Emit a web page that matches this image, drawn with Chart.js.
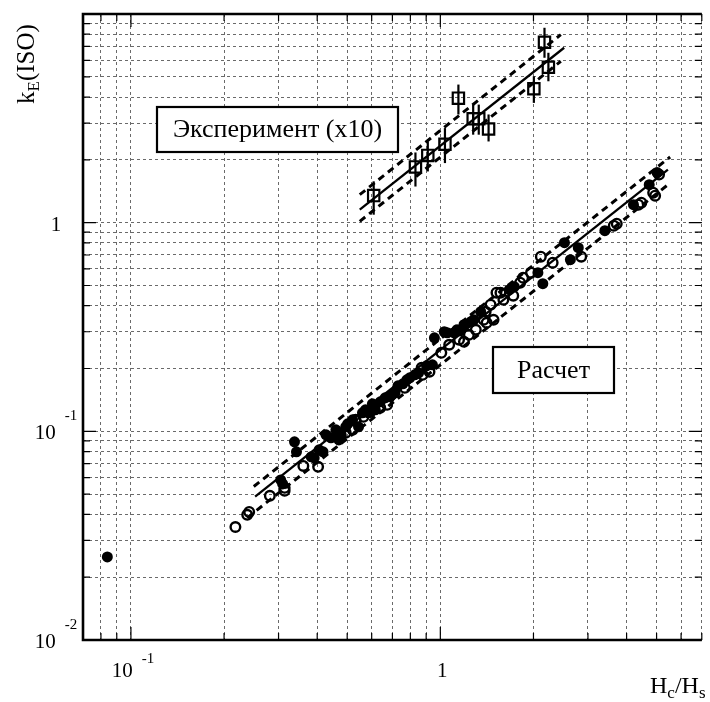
<!DOCTYPE html>
<html>
<head>
<meta charset="utf-8">
<script src="https://cdn.jsdelivr.net/npm/chart.js@4.4.0/dist/chart.umd.min.js"></script>
<style>
  html, body { margin: 0; padding: 0; background: #fff; overflow: hidden; }
  #wrap { width: 712px; height: 702px; }
</style>
</head>
<body>
<div id="wrap"><canvas id="kChart" width="712" height="702"></canvas></div>
<script>
// grid lines on the two log axes
const xGrid = [0.07, 0.08, 0.09, 0.1, 0.2, 0.3, 0.4, 0.5, 0.6, 0.7, 0.8, 0.9, 1, 2, 3, 4, 5, 6, 7];
const yGrid = [0.01, 0.02, 0.03, 0.04, 0.05, 0.06, 0.07, 0.08, 0.09,
               0.1, 0.2, 0.3, 0.4, 0.5, 0.6, 0.7, 0.8, 0.9,
               1, 2, 3, 4, 5, 6, 7, 8, 9, 10];

// labelled ticks (base and exponent)
const xLabelVals = [0.1, 1];
const xLabelBase = ['10', '1'];
const xLabelExp  = ['-1', ''];
const yLabelVals = [0.01, 0.1, 1];
const yLabelBase = ['10', '10', '1'];
const yLabelExp  = ['-2', '-1', ''];

// experiment (x10), squares with error bars
const expX    = [0.609, 0.831, 0.911, 1.035, 1.144, 1.277, 1.331, 1.432, 2.006, 2.171, 2.235];
const expY    = [1.348, 1.85, 2.10, 2.375, 3.95, 3.15, 3.15, 2.81, 4.38, 7.32, 5.56];
const expLow  = [1.092, 1.49, 1.76, 1.93, 3.30, 2.64, 2.64, 2.45, 3.75, 6.17, 4.76];
const expHigh = [1.578, 2.17, 2.45, 2.84, 4.59, 3.68, 3.68, 3.30, 5.03, 8.59, 6.52];

// calculation, filled circles
const calcFilledX = [0.0839, 0.3378, 0.3428, 0.3048, 0.3093, 0.3911, 0.4057, 0.4178, 0.4271, 0.4431,
                     0.4769, 0.4699, 0.4946, 0.5206, 0.5441, 0.5603, 0.5855, 0.6031, 0.6164, 0.688,
                     0.7138, 0.7297, 0.6982, 0.8264, 0.8509, 0.943, 0.957, 1.0297, 1.108, 1.1665,
                     1.1924, 1.2552, 1.2832, 1.3507, 1.6711, 2.1441, 2.5189, 2.6322, 2.7919, 3.4024,
                     4.2088, 4.7331, 5.0188, 0.3826, 1.0526, 1.1327, 1.7338, 2.0671,
                     0.4597, 0.5019, 0.5728, 0.6395, 0.6633, 0.7568, 0.7794, 0.7966, 0.9025];
const calcFilledY = [0.025, 0.0891, 0.0798, 0.0585, 0.056, 0.0746, 0.0815, 0.0798, 0.0962, 0.0931,
                     0.0973, 0.091, 0.1051, 0.1136, 0.1051, 0.1227, 0.1227, 0.1355, 0.1268, 0.1464,
                     0.153, 0.1653, 0.1497, 0.1866, 0.1909, 0.2084, 0.2808, 0.3001, 0.2968, 0.3068,
                     0.3242, 0.3351, 0.3426, 0.3742, 0.4772, 0.5099, 0.802, 0.6646, 0.7587, 0.9155,
                     1.2197, 1.5214, 1.7372, 0.0755, 0.2968, 0.3068, 0.4932, 0.5757,
                     0.1017, 0.1086, 0.1268, 0.1385, 0.1447, 0.169, 0.1766, 0.1805, 0.2061];

// calculation, open circles
const calcOpenX = [0.2176, 0.2376, 0.2411, 0.2812, 0.3139, 0.3139, 0.3608, 0.4027, 0.4946, 0.5206,
                   0.5322, 0.5645, 0.6395, 0.8764, 0.87, 1.0074, 1.1495, 1.3807, 1.4012, 1.4859,
                   1.4115, 1.4535, 1.5188, 1.5641, 1.8113, 1.8514, 1.9634, 2.1129, 2.3071, 2.8537,
                   3.6357, 3.717, 4.3661, 4.4635, 4.874, 5.0933, 4.9462, 1.2369, 1.0682,
                   0.4769, 0.5941, 0.673, 0.7679, 0.9226, 1.1924, 1.3022, 1.599, 1.721];
const calcOpenY = [0.0348, 0.0398, 0.0411, 0.0491, 0.0536, 0.0519, 0.0683, 0.0676, 0.0984, 0.1017,
                   0.1136, 0.1173, 0.1296, 0.1866, 0.2017, 0.2379, 0.2747, 0.3426, 0.3742, 0.3426,
                   0.3314, 0.4044, 0.4616, 0.4616, 0.5155, 0.5448, 0.5757, 0.687, 0.643, 0.687,
                   0.9674, 0.989, 1.2197, 1.247, 1.3928, 1.6992, 1.3475, 0.2903, 0.26,
                   0.0951, 0.1241, 0.134, 0.1616, 0.193, 0.2688, 0.3068, 0.4272, 0.4467];

// fitted lines and bounds (end points)
const expFitX   = [0.549, 2.513];  const expFitY   = [1.154, 6.89];
const expUpX    = [0.549, 2.452];  const expUpY    = [1.362, 7.97];
const expDownX  = [0.549, 2.452];  const expDownY  = [1.015, 5.94];
const calcFitX  = [0.252, 5.44];   const calcFitY  = [0.0486, 1.796];
const calcUpX   = [0.2495, 5.53];  const calcUpY   = [0.0544, 2.065];
const calcDownX = [0.2376, 5.53];  const calcDownY = [0.0385, 1.55];

const SERIF = '"Liberation Serif", "Times New Roman", serif';

function pts(xs, ys) {
    return xs.map(function(x, i) { return {x: x, y: ys[i]}; });
}

function lineSet(xs, ys, dashed) {
    return {
        data: pts(xs, ys),
        showLine: true,
        pointRadius: 0,
        borderColor: '#000',
        borderWidth: dashed ? 3 : 2.3,
        borderDash: dashed ? [7, 5] : [],
        order: 5
    };
}

// draws error bars, frame, tick marks, labels and the two text boxes
const decor = {
    id: 'decor',
    beforeDatasetsDraw: function(chart) {
        const ctx = chart.ctx, xs = chart.scales.x, ys = chart.scales.y;
        ctx.save();
        ctx.strokeStyle = '#000';
        ctx.lineWidth = 2.2;
        for (let i = 0; i < expX.length; i++) {
            const px = xs.getPixelForValue(expX[i]);
            ctx.beginPath();
            ctx.moveTo(px, ys.getPixelForValue(expLow[i]));
            ctx.lineTo(px, ys.getPixelForValue(expHigh[i]));
            ctx.stroke();
        }
        ctx.restore();
    },
    afterDraw: function(chart) {
        const ctx = chart.ctx, a = chart.chartArea;
        const xs = chart.scales.x, ys = chart.scales.y;
        ctx.save();
        ctx.strokeStyle = '#000';

        // tick marks pointing inward
        ctx.lineWidth = 1.2;
        xGrid.forEach(function(v) {
            const px = xs.getPixelForValue(v);
            const len = xLabelVals.indexOf(v) >= 0 ? 13 : 7;
            ctx.beginPath();
            ctx.moveTo(px, a.bottom); ctx.lineTo(px, a.bottom - len);
            ctx.moveTo(px, a.top); ctx.lineTo(px, a.top + len);
            ctx.stroke();
        });
        yGrid.forEach(function(v) {
            const py = ys.getPixelForValue(v);
            const len = yLabelVals.indexOf(v) >= 0 ? 13 : 7;
            ctx.beginPath();
            ctx.moveTo(a.left, py); ctx.lineTo(a.left + len, py);
            ctx.moveTo(a.right, py); ctx.lineTo(a.right - len, py);
            ctx.stroke();
        });

        // frame
        ctx.lineWidth = 2.6;
        ctx.beginPath();
        ctx.moveTo(a.right, a.top); ctx.lineTo(a.left, a.top);
        ctx.lineTo(a.left, a.bottom); ctx.lineTo(a.right, a.bottom);
        ctx.stroke();

        ctx.fillStyle = '#000';
        ctx.textBaseline = 'alphabetic';
        ctx.textAlign = 'left';

        function powLabel(cx, baseY, base, exp, raise) {
            ctx.font = '21px ' + SERIF;
            const wb = ctx.measureText(base).width;
            ctx.font = '15px ' + SERIF;
            const we = exp ? ctx.measureText(exp).width : 0;
            const gap = exp ? 9 : 0;
            const x0 = cx - (wb + gap + we) / 2;
            ctx.font = '21px ' + SERIF;
            ctx.fillText(base, x0, baseY);
            if (exp) {
                ctx.font = '15px ' + SERIF;
                ctx.fillText(exp, x0 + wb + gap, baseY - raise);
            }
        }
        xLabelVals.forEach(function(v, i) {
            powLabel(xs.getPixelForValue(v) + 2, a.bottom + 37, xLabelBase[i], xLabelExp[i], 14);
        });
        yLabelVals.forEach(function(v, i) {
            powLabel(56, ys.getPixelForValue(v) + 8, yLabelBase[i], yLabelExp[i], 19);
        });

        // y axis title k_E(ISO)
        ctx.save();
        ctx.translate(34, 104);
        ctx.rotate(-Math.PI / 2);
        ctx.font = '25px ' + SERIF;
        ctx.fillText('k', 0, 0);
        let w = ctx.measureText('k').width;
        ctx.font = '17px ' + SERIF;
        ctx.fillText('E', w, 5);
        w += ctx.measureText('E').width;
        ctx.font = '25px ' + SERIF;
        ctx.fillText('(ISO)', w, 0);
        ctx.restore();

        // x axis title H_c/H_s
        let tx = 650;
        const ty = 693;
        [['H', 24, 0], ['c', 17, 5], ['/H', 24, 0], ['s', 17, 5]].forEach(function(p) {
            ctx.font = p[1] + 'px ' + SERIF;
            ctx.fillText(p[0], tx, ty + p[2]);
            tx += ctx.measureText(p[0]).width;
        });

        // text boxes
        function box(x, y, w, h, text, size) {
            ctx.fillStyle = '#fff';
            ctx.fillRect(x, y, w, h);
            ctx.lineWidth = 2.2;
            ctx.strokeRect(x, y, w, h);
            ctx.fillStyle = '#000';
            ctx.font = size + 'px ' + SERIF;
            ctx.textAlign = 'center';
            ctx.textBaseline = 'middle';
            ctx.fillText(text, x + w / 2, y + h / 2 + 1);
            ctx.textAlign = 'left';
            ctx.textBaseline = 'alphabetic';
        }
        box(157, 107, 241, 45, 'Эксперимент (x10)', 26);
        box(493, 347, 121, 46, 'Расчет', 26);

        ctx.restore();
    }
};

const ctx = document.getElementById('kChart').getContext('2d');

const kChart = new Chart(ctx, {
    type: 'scatter',
    data: {
        datasets: [
            {
                data: pts(expX, expY),
                pointStyle: 'rect',
                pointRadius: 8,
                borderColor: '#000',
                borderWidth: 2.2,
                backgroundColor: 'rgba(0,0,0,0)',
                order: 0
            },
            {
                data: pts(calcFilledX, calcFilledY),
                pointStyle: 'circle',
                pointRadius: 5.5,
                borderWidth: 0,
                backgroundColor: '#000',
                order: 1
            },
            {
                data: pts(calcOpenX, calcOpenY),
                pointStyle: 'circle',
                pointRadius: 4.8,
                borderWidth: 2.4,
                borderColor: '#000',
                backgroundColor: 'rgba(0,0,0,0)',
                order: 1
            },
            lineSet(expFitX, expFitY, false),
            lineSet(expUpX, expUpY, true),
            lineSet(expDownX, expDownY, true),
            lineSet(calcFitX, calcFitY, false),
            lineSet(calcUpX, calcUpY, true),
            lineSet(calcDownX, calcDownY, true)
        ]
    },
    options: {
        responsive: false,
        animation: false,
        layout: {
            padding: { left: 83, top: 14, right: 0, bottom: 62 }
        },
        plugins: {
            legend: { display: false },
            tooltip: { enabled: false }
        },
        scales: {
            x: {
                type: 'logarithmic',
                min: 0.07,
                max: 7,
                afterBuildTicks: function(scale) {
                    scale.ticks = xGrid.map(function(v) { return {value: v}; });
                },
                ticks: { display: false },
                border: { display: false, dash: [3, 3] },
                grid: {
                    color: '#6a6a6a',
                    lineWidth: 1,
                    drawTicks: false
                }
            },
            y: {
                type: 'logarithmic',
                min: 0.01,
                max: 10,
                afterBuildTicks: function(scale) {
                    scale.ticks = yGrid.map(function(v) { return {value: v}; });
                },
                ticks: { display: false },
                border: { display: false, dash: [3, 3] },
                grid: {
                    color: '#6a6a6a',
                    lineWidth: 1,
                    drawTicks: false
                }
            }
        }
    },
    plugins: [decor]
});
</script>
</body>
</html>
